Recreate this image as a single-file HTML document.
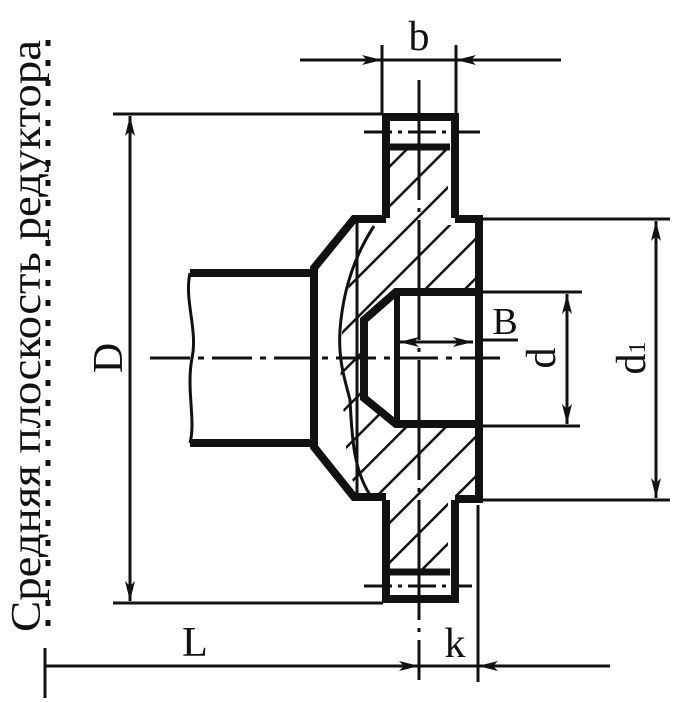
<!DOCTYPE html>
<html><head><meta charset="utf-8"><style>html,body{margin:0;padding:0;background:#fff}svg{display:block}.t{font-family:"Liberation Serif","DejaVu Serif","Noto Serif CJK SC",serif}</style></head>
<body>
<svg width="694" height="703" viewBox="0 0 694 703" xmlns="http://www.w3.org/2000/svg">
<defs>
<marker id="a" viewBox="0 0 20 10" refX="20" refY="5" markerWidth="20" markerHeight="10" markerUnits="userSpaceOnUse" orient="auto-start-reverse"><path d="M0,0 L20,5 L0,10 L5,5 Z" fill="#111"/></marker>
<pattern id="h" patternUnits="userSpaceOnUse" width="28" height="28" patternTransform="rotate(45)"><line x1="0" y1="0" x2="0" y2="28" stroke="#111" stroke-width="5"/></pattern>
<clipPath id="c"><path d="M390,147 L448,147 L448,225 L475,225 L475,290 L395,290 L362,320 L362,400 L395,425 L475,425 L475,495 L448,495 L448,570 L390,570 L390,495 L360,495 C350,480 345,460 345,420 C338,380 340,340 345,310 C350,270 360,245 372,226 L390,226 Z"/></clipPath>
</defs>
<g fill="none" stroke="#111">
<rect x="330" y="140" width="160" height="450" fill="url(#h)" stroke="none" clip-path="url(#c)"/>
<path d="M386,218 L386,117 L455,117 L455,218 M386,500 L386,599 L455,599 L455,500" stroke-width="8"/>
<line x1="390" y1="147" x2="450" y2="147" stroke-width="7"/>
<line x1="390" y1="572" x2="450" y2="572" stroke-width="7"/>
<line x1="364" y1="132" x2="480" y2="132" stroke-width="3" stroke-dasharray="28,6,4,6"/>
<line x1="364" y1="586" x2="472" y2="586" stroke-width="3" stroke-dasharray="28,6,4,6"/>
<path d="M386,219 L354,219 L314,268 L314,447 L354,497 L386,497" stroke-width="8"/>
<path d="M455,219 L479,219 L479,499 L455,499" stroke-width="8"/>
<line x1="357" y1="222" x2="357" y2="495" stroke-width="3"/>
<line x1="190" y1="273" x2="314" y2="273" stroke-width="8"/>
<line x1="190" y1="443" x2="314" y2="443" stroke-width="8"/>
<path d="M190,273 C184,300 198,330 192,358 C186,390 196,420 190,443" stroke-width="3"/>
<path d="M374,226 C355,255 343,290 340,330 C338,360 345,380 350,400 C352,440 354,470 370,495" stroke-width="3"/>
<path d="M476,292 L396,292 L364,320 L364,398 L396,424 L476,424" stroke-width="8"/>
<line x1="397" y1="292" x2="397" y2="424" stroke-width="6"/>
<line x1="150" y1="358" x2="500" y2="358" stroke-width="3" stroke-dasharray="40,8,6,8"/>
<line x1="419" y1="80" x2="419" y2="680" stroke-width="3" stroke-dasharray="120,8,4,8"/>
<line x1="399" y1="342" x2="473" y2="342" stroke-width="3" marker-start="url(#a)" marker-end="url(#a)"/>
<line x1="475" y1="340" x2="518" y2="340" stroke-width="3"/>
<line x1="382" y1="45" x2="382" y2="113" stroke-width="3"/>
<line x1="456" y1="45" x2="456" y2="113" stroke-width="3"/>
<line x1="300" y1="60" x2="382" y2="60" stroke-width="3" marker-end="url(#a)"/>
<line x1="561" y1="60" x2="456" y2="60" stroke-width="3" marker-end="url(#a)"/>
<line x1="382" y1="60" x2="456" y2="60" stroke-width="3"/>
<line x1="113" y1="114" x2="383" y2="114" stroke-width="3"/>
<line x1="113" y1="603" x2="383" y2="603" stroke-width="3"/>
<line x1="130" y1="116" x2="130" y2="601" stroke-width="3" marker-start="url(#a)" marker-end="url(#a)"/>
<line x1="479" y1="292" x2="582" y2="292" stroke-width="3"/>
<line x1="479" y1="426" x2="580" y2="426" stroke-width="3"/>
<line x1="567" y1="294" x2="567" y2="424" stroke-width="3" marker-start="url(#a)" marker-end="url(#a)"/>
<line x1="481" y1="219" x2="670" y2="219" stroke-width="3"/>
<line x1="481" y1="500" x2="670" y2="500" stroke-width="3"/>
<line x1="656" y1="221" x2="656" y2="498" stroke-width="3" marker-start="url(#a)" marker-end="url(#a)"/>
<line x1="45" y1="648" x2="45" y2="698" stroke-width="3"/>
<line x1="45" y1="666" x2="419" y2="666" stroke-width="3" marker-end="url(#a)"/>
<line x1="478" y1="505" x2="478" y2="682" stroke-width="3"/>
<line x1="610" y1="666" x2="478" y2="666" stroke-width="3" marker-end="url(#a)"/>
<line x1="419" y1="666" x2="478" y2="666" stroke-width="3"/>
<line x1="48" y1="40" x2="48" y2="640" stroke-width="5" stroke-dasharray="6,14"/>
</g>
<g class="t" fill="#111">
<text x="419" y="50" font-size="42" text-anchor="middle">b</text>
<text x="505" y="334" font-size="38" text-anchor="middle">B</text>
<text x="195" y="656" font-size="42" text-anchor="middle">L</text>
<text x="455" y="657" font-size="42" text-anchor="middle">k</text>
<text transform="translate(122,358) rotate(-90)" font-size="42" text-anchor="middle">D</text>
<text transform="translate(555,358) rotate(-90)" font-size="42" text-anchor="middle">d</text>
<text transform="translate(645,358) rotate(-90)" font-size="42" text-anchor="middle">d<tspan font-size="24">1</tspan></text>
<text transform="translate(40,632) rotate(-90)" font-size="42" textLength="592" lengthAdjust="spacingAndGlyphs">Средняя плоскость редуктора</text>
</g>
</svg>
</body></html>
